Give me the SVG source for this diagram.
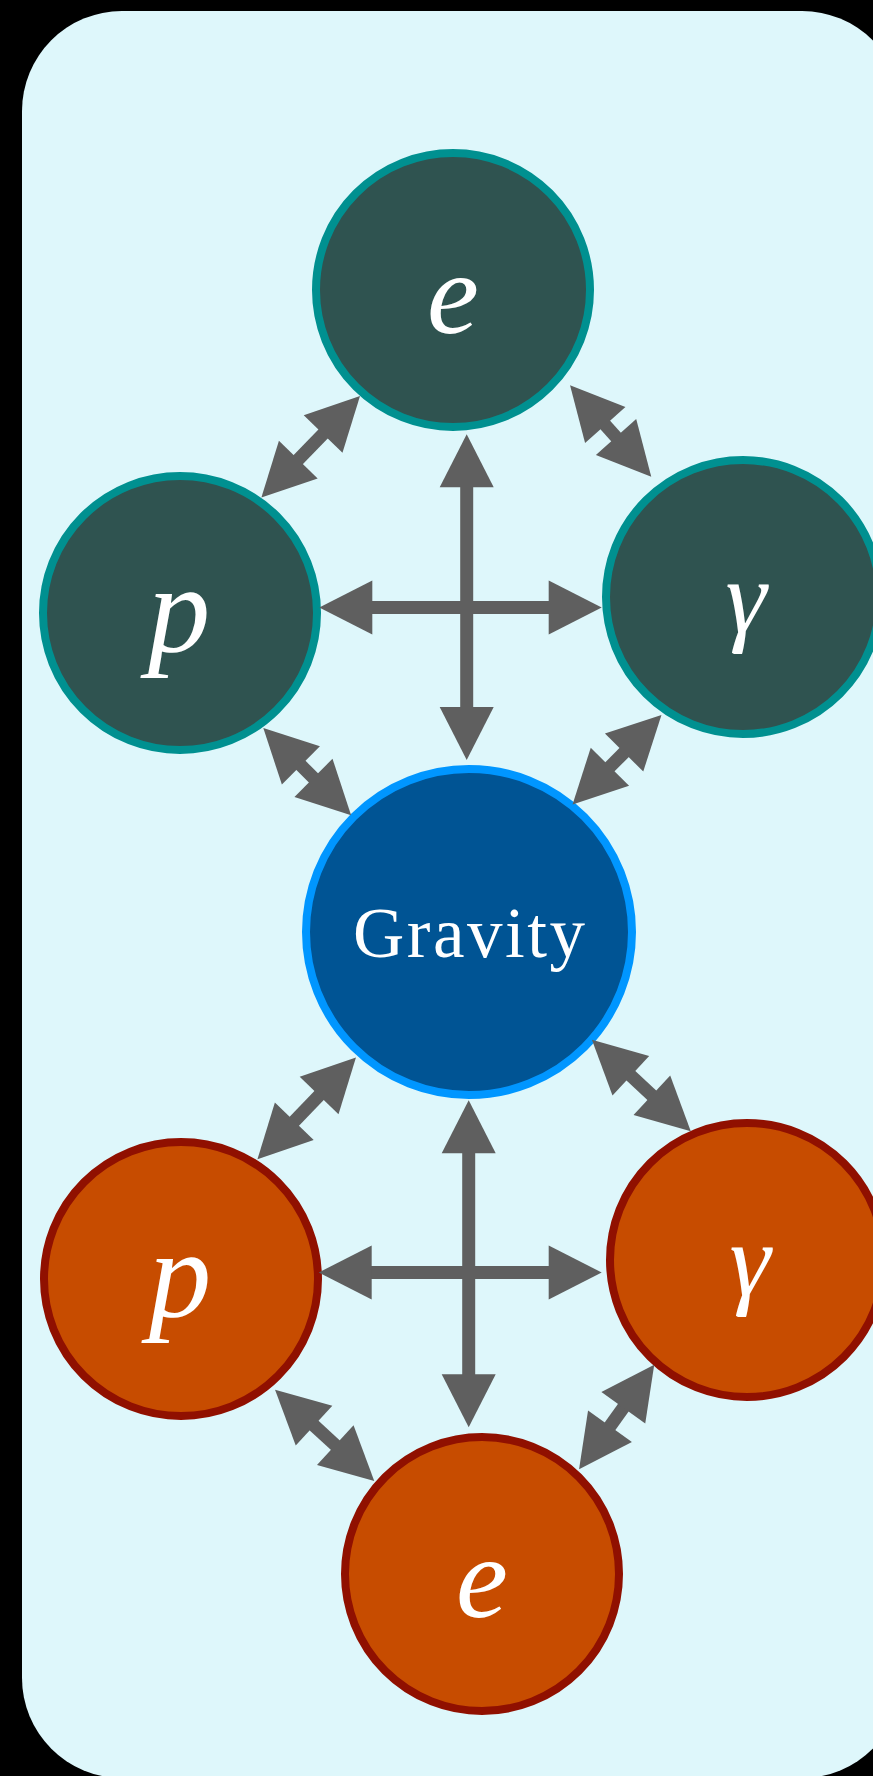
<svg xmlns="http://www.w3.org/2000/svg" width="873" height="1776" viewBox="0 0 873 1776">
  <style>
    .top circle { fill: #2f5350; stroke: #009090; stroke-width: 8; }
    .bot circle { fill: #c74c00; stroke: #901000; stroke-width: 8; }
    .grav circle { fill: #005494; stroke: #0096ff; stroke-width: 8; }
    .lbl { font-family: "Liberation Serif", "Times New Roman", serif; font-style: italic; font-size: 125px; fill: #ffffff; text-anchor: middle; }
    .lbl-e { font-size: 117px; }
    .lbl-g { font-size: 104px; }
    .glbl { font-family: "Liberation Serif", "Times New Roman", serif; font-size: 71px; fill: #ffffff; text-anchor: middle; }
    #connectors line { stroke: #5f5f5f; stroke-width: 13; marker-start: url(#ah); marker-end: url(#ah); }
  </style>
  <defs>
    <marker id="ah" markerUnits="userSpaceOnUse" viewBox="0 -30 60 60" markerWidth="60" markerHeight="60" refX="1" refY="0" orient="auto-start-reverse" overflow="visible">
      <path d="M0,-27 L53,0 L0,27 z" fill="#5f5f5f"/>
    </marker>
  </defs>
  <rect x="0" y="0" width="873" height="1776" fill="#000000"/>
  <rect x="22" y="11" width="880" height="1767" rx="100" ry="100" fill="#def7fb"/>

  <g id="node-e-top" class="top">
    <circle cx="453" cy="290" r="137"/>
    <text class="lbl lbl-e" x="453" y="333">e</text>
  </g>
  <g id="node-p-top" class="top">
    <circle cx="180" cy="613" r="137"/>
    <text class="lbl" x="179" y="651">p</text>
  </g>
  <g id="node-gamma-top" class="top">
    <circle cx="743" cy="597" r="137"/>
    <text class="lbl lbl-g" x="746" y="632">γ</text>
  </g>
  <g id="node-gravity" class="grav">
    <circle cx="469" cy="932" r="163"/>
    <text class="glbl" x="469" y="957" textLength="232" lengthAdjust="spacing">Gravity</text>
  </g>
  <g id="node-p-bottom" class="bot">
    <circle cx="181" cy="1279" r="137"/>
    <text class="lbl" x="180" y="1316">p</text>
  </g>
  <g id="node-gamma-bottom" class="bot">
    <circle cx="747" cy="1260" r="137"/>
    <text class="lbl lbl-g" x="750" y="1295">γ</text>
  </g>
  <g id="node-e-bottom" class="bot">
    <circle cx="482" cy="1574" r="137"/>
    <text class="lbl lbl-e" x="482" y="1617">e</text>
  </g>

  <g id="connectors">
    <line x1="323.8" y1="433.3" x2="297.6" y2="460.3"/>
    <line x1="604.6" y1="424.2" x2="616.7" y2="437.8"/>
    <line x1="466.7" y1="486.3" x2="466.7" y2="708"/>
    <line x1="371.3" y1="607.5" x2="549.7" y2="607.5"/>
    <line x1="300.2" y1="764.7" x2="314.2" y2="778.6"/>
    <line x1="624.8" y1="751.8" x2="609.2" y2="767.5"/>
    <line x1="319.8" y1="1094.8" x2="293.6" y2="1121.9"/>
    <line x1="630.1" y1="1075.1" x2="652.6" y2="1095.9"/>
    <line x1="468.7" y1="1152.3" x2="468.7" y2="1375.3"/>
    <line x1="370.7" y1="1272.5" x2="549.7" y2="1272.5"/>
    <line x1="313.3" y1="1424.9" x2="336" y2="1445.8"/>
    <line x1="623.9" y1="1406.9" x2="609.4" y2="1427.1"/>
  </g>
</svg>
